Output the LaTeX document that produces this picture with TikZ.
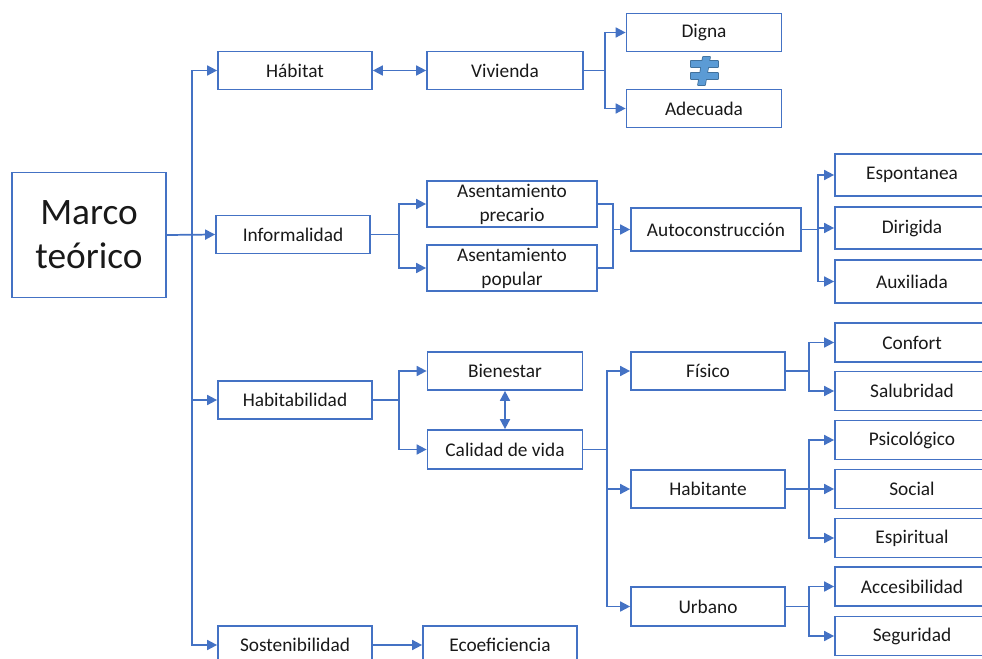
\documentclass[tikz,border=0pt]{standalone}
\usepackage{fontspec}
\setmainfont{Carlito}
\usetikzlibrary{arrows.meta}
\definecolor{lineblue}{HTML}{4472C4}
\definecolor{symfill}{HTML}{5B9BD5}
\definecolor{symedge}{HTML}{41719C}
\begin{document}
\begin{tikzpicture}[x=0.75pt,y=-0.75pt,
  box/.style={draw=lineblue, line width=1.3pt, inner sep=0pt, align=center,
    minimum width=115.5pt, minimum height=28.5pt,
    font=\fontsize{14.5}{18}\selectfont, text=black!90},
  bw/.style={minimum width={#1*0.75pt}},
  bh/.style={minimum height={#1*0.75pt}},
  link/.style={draw=lineblue, line width=1.3pt},
  arrow/.style={link, -{Triangle[length=7.5pt,width=7.5pt]}},
  twoway/.style={link, {Triangle[length=7.5pt,width=7.5pt]}-{Triangle[length=7.5pt,width=7.5pt]}},
  neqpart/.style={draw=symedge, line width=1.2pt, line join=round},
  neqfill/.style={fill=symfill}
]
\useasboundingbox (0,0) rectangle (982,659);

% root
\node[box, bw=154, bh=125, font=\fontsize{28}{33}\selectfont] (marco) at (89,235) {Marco\\teórico};

% first level
\node[box] (habitat)        at (295,70.5) {Hábitat};
\node[box] (informalidad)   at (293,234.5) {Informalidad};
\node[box] (habitabilidad)  at (295,400) {Habitabilidad};
\node[box] (sostenibilidad) at (295,645) {Sostenibilidad};

% second level
\node[box, bw=156] (vivienda)  at (505,70.5) {Vivienda};
\node[box, bw=170, bh=46] (precario) at (512,204) {Asentamiento\\precario};
\node[box, bw=170, bh=46] (popular)  at (512,268) {Asentamiento\\popular};
\node[box, bw=155] (bienestar) at (505,371) {Bienestar};
\node[box, bw=155, bh=39] (calidad) at (505,449.5) {Calidad de vida};
\node[box] (ecoeficiencia) at (500,645) {Ecoeficiencia};

% third level
\node[box, bw=155] (digna)    at (704,32.5) {Digna};
\node[box, bw=155] (adecuada) at (704,108.5) {Adecuada};
\node[box, bw=170, bh=43] (auto) at (716,229.5) {Autoconstrucción};
\node[box] (fisico)    at (708,371) {Físico};
\node[box] (habitante) at (708,489) {Habitante};
\node[box, bh=39] (urbano) at (708,606.5) {Urbano};

% leaves
\node[box, bh=42] (espontanea) at (912,175) {Espontanea};
\node[box, bh=42] (dirigida)   at (912,228) {Dirigida};
\node[box, bh=43] (auxiliada)  at (912,281.5) {Auxiliada};
\node[box, bh=39] (confort)     at (912,342.5) {Confort};
\node[box, bh=39] (salubridad)  at (912,391) {Salubridad};
\node[box, bh=39] (psicologico) at (912,440) {Psicológico};
\node[box, bh=39] (social)      at (912,489) {Social};
\node[box, bh=39] (espiritual)  at (912,538) {Espiritual};
\node[box, bh=39] (accesibilidad) at (912,586.5) {Accesibilidad};
\node[box, bh=39] (seguridad)     at (912,636) {Seguridad};

% branch columns
\coordinate (tk) at (192,0);
\coordinate (bv) at (605,0);
\coordinate (bi) at (399,0);
\coordinate (bj) at (613,0);
\coordinate (ba) at (818,0);
\coordinate (bc) at (607,0);
\coordinate (br) at (809,0);

% trunk
\draw[arrow] (marco.east) -- (informalidad.west);
\foreach \t in {habitat,habitabilidad,sostenibilidad}
  \draw[arrow] (tk |- marco.east) |- (\t.west);

% habitat branch
\draw[twoway] (habitat.east) -- (vivienda.west);
\foreach \t in {digna,adecuada}
  \draw[arrow] (vivienda.east) -- (bv |- vivienda.east) |- (\t.west);

% informality branch
\foreach \t in {precario,popular}
  \draw[arrow] (informalidad.east) -- (bi |- informalidad.east) |- (\t.west);
\coordinate (join) at (bj |- auto.west);
\draw[link] (precario.east) -| (join) |- (popular.east);
\draw[arrow] (join) -- (auto.west);
\foreach \t in {espontanea,dirigida,auxiliada}
  \draw[arrow] (auto.east) -- (ba |- auto.east) |- (\t.west);

% habitability branch
\foreach \t in {bienestar,calidad}
  \draw[arrow] (habitabilidad.east) -- (bi |- habitabilidad.east) |- (\t.west);
\draw[twoway] (bienestar.south) -- (calidad.north);
\foreach \t in {fisico,habitante,urbano}
  \draw[arrow] (calidad.east) -- (bc |- calidad.east) |- (\t.west);
\foreach \t in {confort,salubridad}
  \draw[arrow] (fisico.east) -- (br |- fisico.east) |- (\t.west);
\foreach \t in {psicologico,social,espiritual}
  \draw[arrow] (habitante.east) -- (br |- habitante.east) |- (\t.west);
\foreach \t in {accesibilidad,seguridad}
  \draw[arrow] (urbano.east) -- (br |- urbano.east) |- (\t.west);

% sustainability branch
\draw[arrow] (sostenibilidad.east) -- (ecoeficiencia.west);

% not-equal sign between Digna and Adecuada: outline first, then fill each piece
\draw[neqpart] (691,61) rectangle (718,67);
\draw[neqpart] (691,73) rectangle (718,79);
\draw[neqpart] (703,57) -- (710,57) -- (705,85) -- (698,85) -- cycle;
\fill[neqfill] (691,61) rectangle (718,67);
\fill[neqfill] (691,73) rectangle (718,79);
\fill[neqfill] (703,57) -- (710,57) -- (705,85) -- (698,85) -- cycle;
\end{tikzpicture}
\end{document}
